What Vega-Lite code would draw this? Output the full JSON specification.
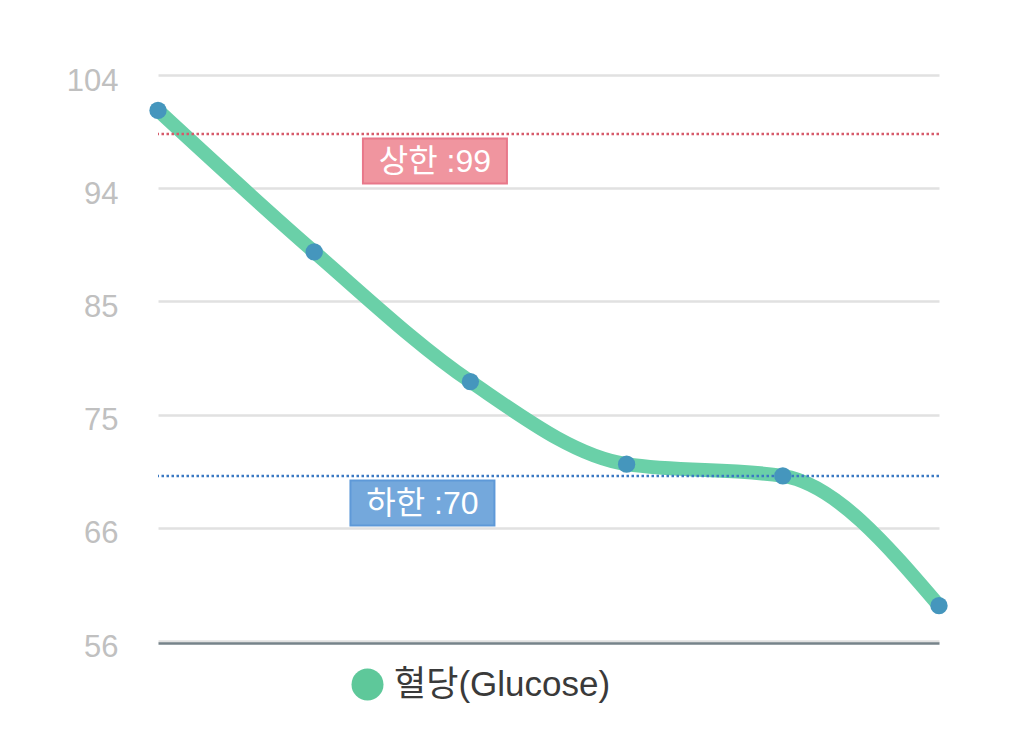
{
  "$schema": "https://vega.github.io/schema/vega-lite/v6.json",
  "width": 781,
  "height": 566,
  "autosize": {"type": "none"},
  "padding": {"left": 158, "top": 75, "right": 71, "bottom": 111},
  "background": "white",
  "config": {
    "font": "Liberation Sans, Noto Sans CJK KR",
    "view": {"stroke": null}
  },
  "datasets": {
    "glucose": [
      {"idx": 0, "value": 101, "series": "혈당(Glucose)"},
      {"idx": 1, "value": 89, "series": "혈당(Glucose)"},
      {"idx": 2, "value": 78, "series": "혈당(Glucose)"},
      {"idx": 3, "value": 71, "series": "혈당(Glucose)"},
      {"idx": 4, "value": 70, "series": "혈당(Glucose)"},
      {"idx": 5, "value": 59, "series": "혈당(Glucose)"}
    ],
    "limits": [
      {"kind": "upper", "label": "상한 :99", "value": 99, "pos": 1.773},
      {"kind": "lower", "label": "하한 :70", "value": 70, "pos": 1.693}
    ]
  },
  "encoding": {
    "x": {
      "field": "idx",
      "type": "quantitative",
      "scale": {"domain": [0, 5], "nice": false, "zero": false},
      "axis": {
        "title": null,
        "labels": false,
        "ticks": false,
        "grid": false,
        "domainColor": "#76838a",
        "domainWidth": 2.5,
        "offset": 2
      }
    },
    "y": {
      "field": "value",
      "type": "quantitative",
      "scale": {"domain": [56, 104], "nice": false, "zero": false},
      "axis": {
        "title": null,
        "values": [56, 65.6, 75.2, 84.8, 94.4, 104],
        "format": ".0f",
        "ticks": false,
        "domain": false,
        "gridColor": "#e1e1e1",
        "gridWidth": 2.5,
        "labelColor": "#c0c0c0",
        "labelFontSize": 31,
        "labelPadding": 40,
        "labelBaseline": "middle",
        "labelOffset": 6
      }
    }
  },
  "layer": [
    {
      "data": {"name": "glucose"},
      "mark": {"type": "line", "interpolate": "monotone", "strokeWidth": 14, "strokeCap": "round"},
      "encoding": {
        "color": {
          "field": "series",
          "type": "nominal",
          "scale": {"domain": ["혈당(Glucose)"], "range": ["#6ad0a8"]},
          "legend": {
            "title": null,
            "orient": "none",
            "legendX": 192,
            "legendY": 592,
            "padding": 0,
            "symbolType": "circle",
            "symbolSize": 1024,
            "symbolFillColor": "#5ec89a",
            "symbolStrokeWidth": 0,
            "labelFontSize": 35,
            "labelLimit": 500,
            "labelColor": "#3a3a3a",
            "labelOffset": 9,
            "encode": {
              "symbols": {"update": {"fill": {"value": "#5ec89a"}, "strokeWidth": {"value": 0}, "opacity": {"value": 1}}}
            }
          }
        }
      }
    },
    {
      "data": {"name": "limits"},
      "transform": [{"filter": "datum.kind == 'upper'"}],
      "mark": {"type": "rule", "color": "#d65a6a", "strokeWidth": 2.5, "strokeDash": [2.5, 2.5]},
      "encoding": {"x": null}
    },
    {
      "data": {"name": "limits"},
      "transform": [{"filter": "datum.kind == 'lower'"}],
      "mark": {"type": "rule", "color": "#3a78c2", "strokeWidth": 2.5, "strokeDash": [2.5, 2.5]},
      "encoding": {"x": null}
    },
    {
      "data": {"name": "glucose"},
      "mark": {"type": "point", "shape": "circle", "filled": true, "size": 300, "color": "#4596bd", "opacity": 1}
    },
    {
      "data": {"name": "limits"},
      "transform": [{"filter": "datum.kind == 'upper'"}],
      "mark": {
        "type": "point",
        "shape": "M-1,-0.3125H1V0.3125H-1Z",
        "size": 20736,
        "filled": true,
        "fill": "#f0959f",
        "stroke": "#e8788a",
        "strokeWidth": 2,
        "opacity": 1,
        "yOffset": 27
      },
      "encoding": {"x": {"field": "pos", "type": "quantitative"}}
    },
    {
      "data": {"name": "limits"},
      "transform": [{"filter": "datum.kind == 'lower'"}],
      "mark": {
        "type": "point",
        "shape": "M-1,-0.3125H1V0.3125H-1Z",
        "size": 20736,
        "filled": true,
        "fill": "#74a8dc",
        "stroke": "#5e99d8",
        "strokeWidth": 2,
        "opacity": 1,
        "yOffset": 27
      },
      "encoding": {"x": {"field": "pos", "type": "quantitative"}}
    },
    {
      "data": {"name": "limits"},
      "mark": {
        "type": "text",
        "color": "white",
        "fontSize": 32,
        "align": "center",
        "baseline": "middle",
        "yOffset": 28
      },
      "encoding": {
        "x": {"field": "pos", "type": "quantitative"},
        "text": {"field": "label"}
      }
    }
  ]
}
